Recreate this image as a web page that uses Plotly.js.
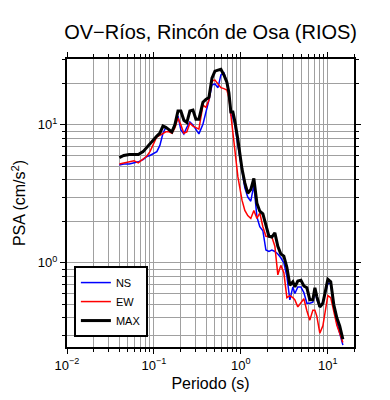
<!DOCTYPE html>
<html><head><meta charset="utf-8">
<script src="https://cdn.plot.ly/plotly-3.0.1.min.js"></script>
<style>html,body{margin:0;padding:0;background:#fff}#plot{width:390px;height:400px}</style>
</head><body><div id="plot"></div>
<script>
const periods = [0.040,0.045,0.052,0.059,0.066,0.075,0.083,0.090,0.100,0.108,0.117,0.127,0.137,0.149,0.161,0.174,0.189,0.204,0.221,0.239,0.259,0.281,0.304,0.329,0.366,0.396,0.429,0.465,0.503,0.545,0.589,0.638,0.690,0.728,0.767,0.809,0.853,0.924,1.03,1.11,1.20,1.30,1.41,1.53,1.65,1.79,1.94,2.10,2.27,2.46,2.66,2.88,3.12,3.38,3.66,3.96,4.18,4.52,4.90,5.30,5.74,6.21,6.73,7.10,7.48,8.09,8.77,9.49,10.0,10.8,11.7,12.7,13.7,14.9];
const psaNS = [5.12,5.2,5.2,5.3,5.4,5.6,5.9,6.0,6.2,6.4,7.1,8.7,9.6,9.2,8.9,10.0,11.6,9.2,8.6,9.6,10.5,10.0,9.3,8.6,10.1,12.2,15.1,19.4,19.8,18.6,23.0,23.8,20.4,17.1,11.8,11.4,10.0,7.1,4.5,3.5,3.0,2.8,3.66,2.15,1.83,1.71,1.24,1.21,1.24,1.21,1.16,1.09,1.0,0.80,0.54,0.67,0.60,0.67,0.67,0.61,0.51,0.51,0.52,0.635,0.54,0.48,0.52,0.635,0.71,0.71,0.48,0.37,0.31,0.254];
const psaEW = [5.2,5.3,5.4,5.5,5.3,5.65,5.95,6.4,7.5,8.2,8.4,8.7,8.9,8.9,8.7,9.5,11.2,10.0,8.7,8.9,10.3,9.8,9.5,9.3,13.9,13.4,15.1,20.8,21.1,19.8,18.6,18.3,17.9,15.8,11.6,8.7,6.6,4.2,2.85,2.4,2.2,2.1,2.4,2.1,2.3,1.83,1.56,1.54,1.54,1.32,0.82,0.96,0.85,0.56,0.58,0.56,0.54,0.48,0.51,0.55,0.45,0.385,0.455,0.455,0.41,0.31,0.35,0.50,0.58,0.56,0.455,0.354,0.31,0.265];
const psaMAX = [5.8,6.0,6.1,6.1,6.1,6.4,6.9,7.3,7.8,8.3,8.7,9.8,9.6,9.2,8.9,10.0,12.6,12.6,10.8,10.4,12.6,12.8,11.0,11.0,14.6,15.3,15.8,21.8,24.5,24.9,25.3,23.0,20.4,17.1,12.4,12.4,10.6,7.8,4.8,3.8,3.2,3.4,4.1,2.7,2.37,2.27,1.88,1.56,1.54,1.65,1.32,1.16,1.12,0.93,0.69,0.73,0.67,0.74,0.75,0.68,0.66,0.54,0.54,0.66,0.57,0.48,0.51,0.635,0.76,0.73,0.50,0.40,0.35,0.28];
const seriesNames = ['NS','EW','MAX'];
const xTickVals = [0.01,0.1,1,10];
const xTickText = ['10<sup>\u22122</sup>','10<sup>\u22121</sup>','10<sup>0</sup>','10<sup>1</sup>'];
const yTickVals = [1,10];
const yTickText = ['10<sup>0</sup>','10<sup>1</sup>'];

function minorVals(d0, d1){ const v=[]; for(let d=d0; d<=d1; d++){ for(let k=2;k<=9;k++){ v.push(k*Math.pow(10,d)); } } return v; }

const font = 'Liberation Sans, Arial, Helvetica, sans-serif';
const traces = [
  {x: periods, y: psaNS, name: seriesNames[0], type:'scatter', mode:'lines', line:{color:'#0000ff', width:1.5}},
  {x: periods, y: psaEW, name: seriesNames[1], type:'scatter', mode:'lines', line:{color:'#ff0000', width:1.5}},
  {x: periods, y: psaMAX, name: seriesNames[2], type:'scatter', mode:'lines', line:{color:'#000000', width:3}}
];
const axisCommon = {
  type:'log', showline:true, linecolor:'#000', linewidth:2, mirror:'allticks',
  ticks:'outside', ticklen:5, tickwidth:1, tickcolor:'#000',
  showgrid:true, gridcolor:'#a0a0a0', gridwidth:1, zeroline:false,
  tickfont:{family:font, size:13, color:'#000'}
};
const layout = {
  width:390, height:400,
  margin:{l:67, r:36, t:59, b:53},
  paper_bgcolor:'#fff', plot_bgcolor:'#fff',
  font:{family:font, color:'#000'},
  title:{text:'OV\u2212Ríos, Rincón de Osa (RIOS)', font:{family:font, size:20, color:'#000'}, x:0.54, xanchor:'center', y:0.92, yanchor:'middle'},
  xaxis: Object.assign({}, axisCommon, {
    range:[-2, Math.log10(20)], tickmode:'array', tickvals:xTickVals, ticktext:xTickText,
    minor:{tickmode:'array', tickvals:minorVals(-2,1), ticks:'outside', ticklen:3, tickcolor:'#000', showgrid:true, gridcolor:'#a0a0a0', gridwidth:1},
    title:{text:'Periodo (s)', font:{family:font, size:16, color:'#000'}, standoff:6}
  }),
  yaxis: Object.assign({}, axisCommon, {
    range:[Math.log10(0.246), Math.log10(30)], tickmode:'array', tickvals:yTickVals, ticktext:yTickText,
    minor:{tickmode:'array', tickvals:minorVals(-1,1), ticks:'outside', ticklen:3, tickcolor:'#000', showgrid:true, gridcolor:'#a0a0a0', gridwidth:1},
    title:{text:'PSA (cm/s<sup>2</sup>)', font:{family:font, size:16, color:'#000'}, standoff:8}
  }),
  showlegend:true,
  legend:{x:0.024, y:0.281, xanchor:'left', yanchor:'top', bgcolor:'#fff', bordercolor:'#000', borderwidth:2,
    font:{family:font, size:11, color:'#000'}, tracegroupgap:0, itemwidth:30}
};
Plotly.newPlot('plot', traces, layout, {staticPlot:true, displayModeBar:false});
</script>
</body></html>
